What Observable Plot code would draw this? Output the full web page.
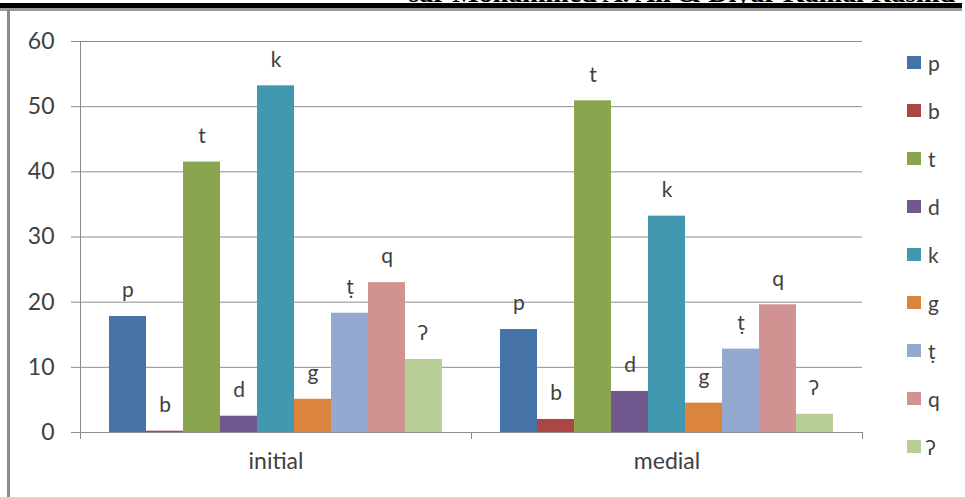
<!DOCTYPE html>
<html><head><meta charset="utf-8">
<script src="https://cdn.jsdelivr.net/npm/d3@7"></script>
<script src="https://cdn.jsdelivr.net/npm/@observablehq/plot@0.6"></script>
<style>
body{margin:0;background:#fff;width:965px;height:497px;overflow:hidden;position:relative;font-family:Lato,"Open Sans",sans-serif;}
#header{position:absolute;right:10px;top:-21px;font:bold 28px "Liberation Serif",serif;line-height:28px;color:#000;white-space:nowrap;}
#topbar{position:absolute;left:0;top:3px;width:962px;height:5px;background:#000;border-bottom:3px solid #9a9a9a;}
#leftbar{position:absolute;left:7px;top:10px;width:3px;height:487px;background:#8c8c8c;}
#chart{position:absolute;left:0;top:0;}
#legend{position:absolute;left:907px;top:0;width:58px;height:497px;}
.item{position:absolute;left:0;height:24px;display:flex;align-items:center;font-size:21px;color:#404040;}
.sw{width:14px;height:13px;margin-right:7px;}
</style></head><body>
<div id="header">sar Mohammed A. Ali &amp; Diyar Kamal Rashid</div>
<div id="topbar"></div>
<div id="leftbar"></div>
<div id="chart"></div>
<div id="legend"></div>
<script>
const positions = ["initial", "medial"];
const consonants = ["p", "b", "t", "d", "k", "g", "ṭ", "q", "ʔ"];
const initialValues = [17.8, 0.2, 41.5, 2.5, 53.2, 5.1, 18.3, 23.0, 11.2];
const medialValues = [15.8, 2.0, 50.9, 6.3, 33.2, 4.5, 12.8, 19.6, 2.8];
const colors = ["#4572A7", "#AA4643", "#89A54E", "#71588F", "#4198AF", "#DB843D", "#93A9CF", "#D19392", "#B9CD96"];
const yTicks = [0, 10, 20, 30, 40, 50, 60];

const data = positions.flatMap((pos, i) =>
  consonants.map((c, j) => ({position: pos, consonant: c, value: (i === 0 ? initialValues : medialValues)[j]}))
);

const gridColor = "#8c8c8c";
const chart = Plot.plot({
  width: 890,
  height: 497,
  marginLeft: 79,
  marginRight: 28,
  marginTop: 41,
  marginBottom: 65,
  style: {fontFamily: "Lato, 'Open Sans', sans-serif", color: "#404040", background: "transparent"},
  fx: {domain: positions, padding: 0, label: null},
  x: {domain: consonants, paddingInner: 0, paddingOuter: 0.73, axis: null},
  y: {domain: [0, 60], label: null},
  color: {domain: consonants, range: colors},
  marks: [
    Plot.gridY(yTicks, {stroke: gridColor, strokeOpacity: 1}),
    Plot.axisY(yTicks, {tickSize: 9, tickPadding: 17, stroke: gridColor, fill: "#404040", fontSize: 23, label: null}),
    Plot.barY(data, {fx: "position", x: "consonant", y: "value", fill: "consonant"}),
    Plot.text(data, {fx: "position", x: "consonant", y: "value", text: "consonant", dy: -26, fontSize: 21, fill: "#404040"}),
    Plot.ruleY([0], {stroke: gridColor}),
    Plot.frame({anchor: "left", insetTop: 391, insetBottom: -6, stroke: gridColor}),
    Plot.frame({anchor: "right", insetTop: 391, insetBottom: -6, stroke: gridColor}),
    Plot.frame({anchor: "left", insetBottom: -6, stroke: gridColor, fx: ["initial"]}),
    Plot.axisFx({anchor: "bottom", tickSize: 0, tickPadding: 20, fontSize: 23, fill: "#404040", label: null})
  ]
});
document.getElementById("chart").appendChild(chart);

const legend = document.getElementById("legend");
consonants.forEach((c, i) => {
  const item = document.createElement("div");
  item.className = "item";
  item.style.top = (62 + i * 48.1 - 12) + "px";
  const sw = document.createElement("div");
  sw.className = "sw";
  sw.style.background = colors[i];
  const label = document.createElement("span");
  label.textContent = c;
  item.appendChild(sw);
  item.appendChild(label);
  legend.appendChild(item);
});
</script>
</body></html>
